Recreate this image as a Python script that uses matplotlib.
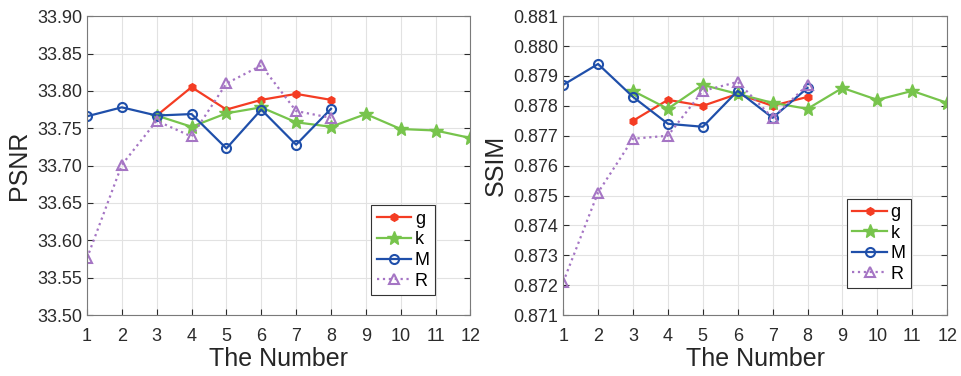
import matplotlib
matplotlib.use("Agg")
import matplotlib.pyplot as plt

plt.rcParams["font.family"] = ["Liberation Sans", "DejaVu Sans"]

x_g = [3, 4, 5, 6, 7, 8]
x_k = [3, 4, 5, 6, 7, 8, 9, 10, 11, 12]
x_m = [1, 2, 3, 4, 5, 6, 7, 8]
x_r = [1, 2, 3, 4, 5, 6, 7, 8]

psnr_g = [33.767, 33.805, 33.775, 33.788, 33.796, 33.788]
psnr_k = [33.767, 33.752, 33.770, 33.778, 33.758, 33.752, 33.769, 33.749, 33.747, 33.737]
psnr_m = [33.766, 33.778, 33.767, 33.769, 33.723, 33.775, 33.728, 33.776]
psnr_r = [33.576, 33.701, 33.760, 33.739, 33.810, 33.834, 33.773, 33.764]

ssim_g = [0.8775, 0.8782, 0.8780, 0.8784, 0.8780, 0.8783]
ssim_k = [0.8785, 0.8779, 0.8787, 0.8784, 0.8781, 0.8779, 0.8786, 0.8782, 0.8785, 0.8781]
ssim_m = [0.8787, 0.8794, 0.8783, 0.8774, 0.8773, 0.8785, 0.8776, 0.8786]
ssim_r = [0.8721, 0.8751, 0.8769, 0.8770, 0.8785, 0.8788, 0.8776, 0.8787]

labels = ["g", "k", "M", "R"]
colors = ["#f43c23", "#77c44c", "#1f4faa", "#a575c4"]


def draw(ax, ys, ylabel, ylim, yticks, fmt, legend_pos):
    ax.plot(x_g, ys[0], "-", color=colors[0], marker="h", ms=5.5, lw=1.6, label=labels[0])
    ax.plot(x_k, ys[1], "-", color=colors[1], marker="*", ms=10, lw=1.6, label=labels[1])
    ax.plot(x_m, ys[2], "-", color=colors[2], marker="o", ms=6.5, mfc="none", mew=1.5, lw=1.6, label=labels[2])
    ax.plot(x_r, ys[3], ":", color=colors[3], marker="^", ms=7.5, mfc="none", mew=1.5, lw=1.6, label=labels[3])
    ax.set_xlim(1, 12)
    ax.set_xticks(range(1, 13))
    ax.set_ylim(*ylim)
    ax.set_yticks(yticks)
    ax.set_yticklabels([fmt.format(v) for v in yticks])
    ax.grid(True, color="#e2e2e2", lw=0.8)
    ax.tick_params(direction="in", length=4, labelsize=13, colors="#2b2b2b", top=False, right=True)
    ax.tick_params(axis="x", pad=9)
    for s in ax.spines.values():
        s.set_color("#7a7a7a")
    ax.set_xlabel("The Number", fontsize=18, color="#262626", labelpad=2)
    ax.set_ylabel(ylabel, fontsize=18, color="#262626", labelpad=4)
    leg = ax.legend(loc="lower left", bbox_to_anchor=legend_pos, fontsize=13, fancybox=False,
                    edgecolor="#333333", framealpha=1, handlelength=1.9, borderpad=0.3,
                    labelspacing=0.2, handletextpad=0.2, borderaxespad=0)
    leg.get_frame().set_linewidth(0.8)


fig = plt.figure(figsize=(9.61, 3.76), dpi=100)
ax1 = fig.add_axes([0.0905, 0.162, 0.399, 0.795])
ax2 = fig.add_axes([0.586, 0.162, 0.3996, 0.795])

psnr_ticks = [33.50 + 0.05 * i for i in range(9)]
ssim_ticks = [0.871 + 0.001 * i for i in range(11)]

draw(ax1, [psnr_g, psnr_k, psnr_m, psnr_r], "PSNR", (33.50, 33.90), psnr_ticks, "{:.2f}", (0.742, 0.067))
draw(ax2, [ssim_g, ssim_k, ssim_m, ssim_r], "SSIM", (0.871, 0.881), ssim_ticks, "{:.3f}", (0.739, 0.09))

fig.savefig("out.png", dpi=100)
